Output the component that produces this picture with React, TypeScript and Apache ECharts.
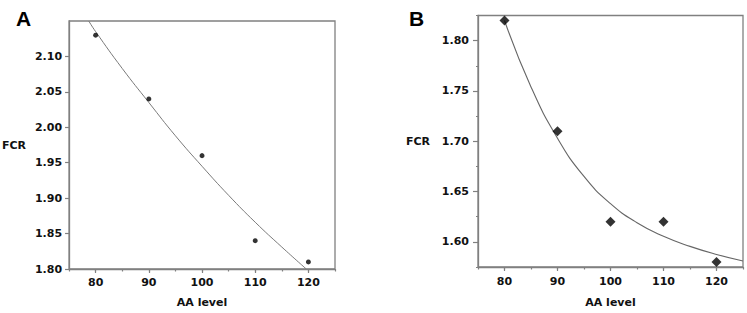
import React, { useEffect, useRef } from "react";
import * as echarts from "echarts";

// Panel A data (AA level vs FCR)
const aaLevels = [80, 90, 100, 110, 120];
const fcrA = [2.13, 2.04, 1.96, 1.84, 1.81];
// Panel A fitted curve
const curveAX = [78.7, 80, 85, 90, 95, 100, 105, 110, 115, 119.6];
const curveAY = [2.15, 2.135, 2.083, 2.035, 1.988, 1.945, 1.904, 1.866, 1.831, 1.8];

// Panel B data
const fcrB = [1.82, 1.71, 1.62, 1.62, 1.58];
// Panel B fitted curve
const curveBX = [80, 85, 90, 95, 100, 105, 110, 115, 120, 125];
const curveBY = [1.82, 1.754, 1.703, 1.665, 1.638, 1.619, 1.6055, 1.5955, 1.5875, 1.581];

// Tick labels
const xTicks = [80, 90, 100, 110, 120];
const yTicksA = [1.8, 1.85, 1.9, 1.95, 2.0, 2.05, 2.1];
const yTicksB = [1.6, 1.65, 1.7, 1.75, 1.8];

const FONT = "'DejaVu Sans', sans-serif";
const GRAY = "#808080";
const TXT = "#111";

export default function App() {
  const ref = useRef<HTMLDivElement>(null);
  useEffect(() => {
    if (!ref.current) return;
    const chart = echarts.init(ref.current, undefined, { renderer: "svg" });
    const labelStyle = { color: TXT, fontFamily: FONT, fontWeight: "bold" as const, fontSize: 11 };
    const nameStyle = { color: TXT, fontFamily: FONT, fontWeight: "bold" as const, fontSize: 11 };
    const mainX = (grid: number, margin: number, nameGap: number) => ({
      type: "value",
      gridIndex: grid,
      position: "bottom",
      min: 75,
      max: 125,
      name: "AA level",
      nameLocation: "middle",
      nameGap,
      nameTextStyle: nameStyle,
      axisLine: { show: true, lineStyle: { color: GRAY, width: 1.3 } },
      axisTick: { show: true, length: 4, customValues: xTicks, lineStyle: { color: GRAY, width: 1.2 } },
      axisLabel: { show: true, margin, customValues: xTicks, ...labelStyle, formatter: (v: number) => String(v) },
      splitLine: { show: false },
    });
    const minorX = (grid: number) => ({
      type: "value",
      gridIndex: grid,
      position: "bottom",
      min: 75,
      max: 125,
      interval: 5,
      axisLine: { show: false },
      axisTick: { show: true, length: 2.5, lineStyle: { color: GRAY, width: 1.2 } },
      axisLabel: { show: false },
      splitLine: { show: false },
    });
    chart.setOption({
      animation: false,
      backgroundColor: "#fff",
      title: [
        { text: "A", left: 11, top: 3, textStyle: { fontFamily: "'Liberation Sans', Arial, sans-serif", fontWeight: "bold", fontSize: 21, color: "#000" } },
        { text: "B", left: 404, top: 3, textStyle: { fontFamily: "'Liberation Sans', Arial, sans-serif", fontWeight: "bold", fontSize: 21, color: "#000" } },
      ],
      grid: [
        { left: 67, top: 21, width: 268, height: 250, show: true, borderColor: GRAY, borderWidth: 1.3, backgroundColor: "transparent" },
        { left: 478, top: 15.5, width: 265, height: 258, show: true, borderColor: GRAY, borderWidth: 1.3, backgroundColor: "transparent" },
      ],
      xAxis: [mainX(0, 8, 28), minorX(0), mainX(1, 9, 30), minorX(1)],
      yAxis: [
        {
          type: "value",
          gridIndex: 0,
          position: "left",
          min: 1.8,
          max: 2.15,
          name: "FCR",
          nameLocation: "middle",
          nameRotate: 0,
          nameGap: 43,
          nameTextStyle: nameStyle,
          axisLine: { show: true, lineStyle: { color: GRAY, width: 1.3 } },
          axisTick: { show: true, length: 4, customValues: yTicksA, lineStyle: { color: GRAY, width: 1.2 } },
          axisLabel: { show: true, margin: 7, customValues: yTicksA, ...labelStyle, formatter: (v: number) => v.toFixed(2) },
          splitLine: { show: false },
        },
        {
          type: "value",
          gridIndex: 1,
          position: "left",
          min: 1.575,
          max: 1.825,
          name: "FCR",
          nameLocation: "middle",
          nameRotate: 0,
          nameGap: 48,
          nameTextStyle: nameStyle,
          axisLine: { show: true, lineStyle: { color: GRAY, width: 1.3 } },
          axisTick: { show: true, length: 5, customValues: yTicksB, lineStyle: { color: GRAY, width: 1.2 } },
          axisLabel: { show: true, margin: 9, customValues: yTicksB, ...labelStyle, formatter: (v: number) => v.toFixed(2) },
          splitLine: { show: false },
        },
        {
          type: "value",
          gridIndex: 1,
          position: "left",
          min: 1.575,
          max: 1.825,
          interval: 0.025,
          axisLine: { show: false },
          axisTick: { show: true, length: 2, lineStyle: { color: GRAY, width: 1.2 } },
          axisLabel: { show: false },
          splitLine: { show: false },
        },
      ],
      series: [
        {
          type: "line",
          xAxisIndex: 0,
          yAxisIndex: 0,
          data: curveAX.map((x, i) => [x, curveAY[i]]),
          smooth: true,
          showSymbol: false,
          clip: true,
          lineStyle: { color: "#7a7a7a", width: 1 },
          z: 2,
        },
        {
          type: "scatter",
          xAxisIndex: 0,
          yAxisIndex: 0,
          data: aaLevels.map((x, i) => [x, fcrA[i]]),
          symbol: "circle",
          symbolSize: 5,
          itemStyle: { color: "#000" },
          z: 3,
        },
        {
          type: "line",
          xAxisIndex: 2,
          yAxisIndex: 1,
          data: curveBX.map((x, i) => [x, curveBY[i]]),
          smooth: true,
          showSymbol: false,
          clip: true,
          lineStyle: { color: "#666", width: 1.1 },
          z: 2,
        },
        {
          type: "scatter",
          xAxisIndex: 2,
          yAxisIndex: 1,
          data: aaLevels.map((x, i) => [x, fcrB[i]]),
          symbol: "diamond",
          symbolSize: 10,
          itemStyle: { color: "#000" },
          z: 3,
        },
      ],
    });
    return () => chart.dispose();
  }, []);
  return <div ref={ref} style={{ position: "fixed", left: 0, top: 0, width: 747, height: 313 }} />;
}
